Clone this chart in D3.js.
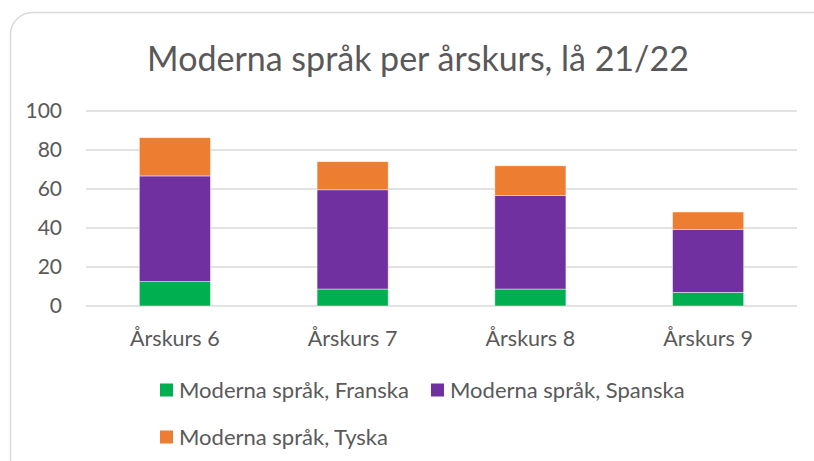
<!DOCTYPE html>
<html>
<head>
<meta charset="UTF-8">
<title>Moderna språk per årskurs</title>
<script src="https://d3js.org/d3.v7.min.js"></script>
<style>
  * { padding: 0; margin: 0; }
  body { background: #fff; overflow: hidden; }
  svg text { font-family: Lato, "Open Sans", sans-serif; fill: #595959; }
</style>
</head>
<body>
<svg id="main" width="814" height="461"></svg>
<script>
// data
const categories = ["Årskurs 6", "Årskurs 7", "Årskurs 8", "Årskurs 9"];
const franska = [12.5, 8.7, 8.7, 7.0];
const spanska = [54.2, 50.9, 47.9, 32.3];
const tyska = [19.6, 14.4, 15.3, 8.9];
const seriesNames = ["Moderna språk, Franska", "Moderna språk, Spanska", "Moderna språk, Tyska"];
const colors = ["#00b050", "#7030a0", "#ed7d31"];
const yTicks = [0, 20, 40, 60, 80, 100];

const svg = d3.select("#main");

// chart frame
svg.append("rect")
  .attr("x", 10.5).attr("y", 12.5)
  .attr("width", 840).attr("height", 480)
  .attr("rx", 22)
  .attr("fill", "#fff")
  .attr("stroke", "#d9d9d9")
  .attr("stroke-width", 1.5);

svg.append("text")
  .attr("x", 418).attr("y", 71)
  .attr("text-anchor", "middle")
  .attr("font-size", 34)
  .text("Moderna språk per årskurs, lå 21/22");

const x = d3.scaleBand().domain(categories).range([86, 797]).paddingInner(0.6).paddingOuter(0.3);
const y = d3.scaleLinear().domain([0, 100]).range([306, 111]);

// gridlines
svg.append("g")
  .selectAll("line")
  .data(yTicks)
  .enter().append("line")
  .attr("x1", 86).attr("x2", 797)
  .attr("y1", d => y(d)).attr("y2", d => y(d))
  .attr("stroke", "#d9d9d9")
  .attr("stroke-width", 1.3);

// y axis labels
svg.append("g")
  .selectAll("text")
  .data(yTicks)
  .enter().append("text")
  .attr("x", 62)
  .attr("y", d => y(d))
  .attr("dy", "0.35em")
  .attr("text-anchor", "end")
  .attr("font-size", 21)
  .text(d => d);

// stacked bars
const rows = categories.map((c, i) => ({ cat: c, f: franska[i], s: spanska[i], t: tyska[i] }));
const stack = d3.stack().keys(["f", "s", "t"])(rows);

svg.append("g")
  .selectAll("g")
  .data(stack)
  .enter().append("g")
  .attr("fill", (d, i) => colors[i])
  .selectAll("rect")
  .data(d => d)
  .enter().append("rect")
  .attr("x", d => x(d.data.cat))
  .attr("width", x.bandwidth())
  .attr("y", d => y(d[1]))
  .attr("height", d => y(d[0]) - y(d[1]))
  .attr("stroke", "#fff")
  .attr("stroke-opacity", 0.6)
  .attr("stroke-width", 0.75);

// x axis labels
svg.append("g")
  .selectAll("text")
  .data(categories)
  .enter().append("text")
  .attr("x", d => x(d) + x.bandwidth() / 2)
  .attr("y", 346)
  .attr("text-anchor", "middle")
  .attr("font-size", 21.5)
  .text(d => d);

// legend
const legendPos = [[160, 390], [431, 390], [160, 437]];
const legend = svg.append("g")
  .selectAll("g")
  .data(seriesNames)
  .enter().append("g")
  .attr("transform", (d, i) => `translate(${legendPos[i][0]},${legendPos[i][1]})`);

legend.append("rect")
  .attr("x", 0).attr("y", -6.5)
  .attr("width", 13).attr("height", 13)
  .attr("fill", (d, i) => colors[i]);

legend.append("text")
  .attr("x", 19)
  .attr("dy", "0.35em")
  .attr("font-size", 22)
  .text(d => d);
</script>
</body>
</html>
